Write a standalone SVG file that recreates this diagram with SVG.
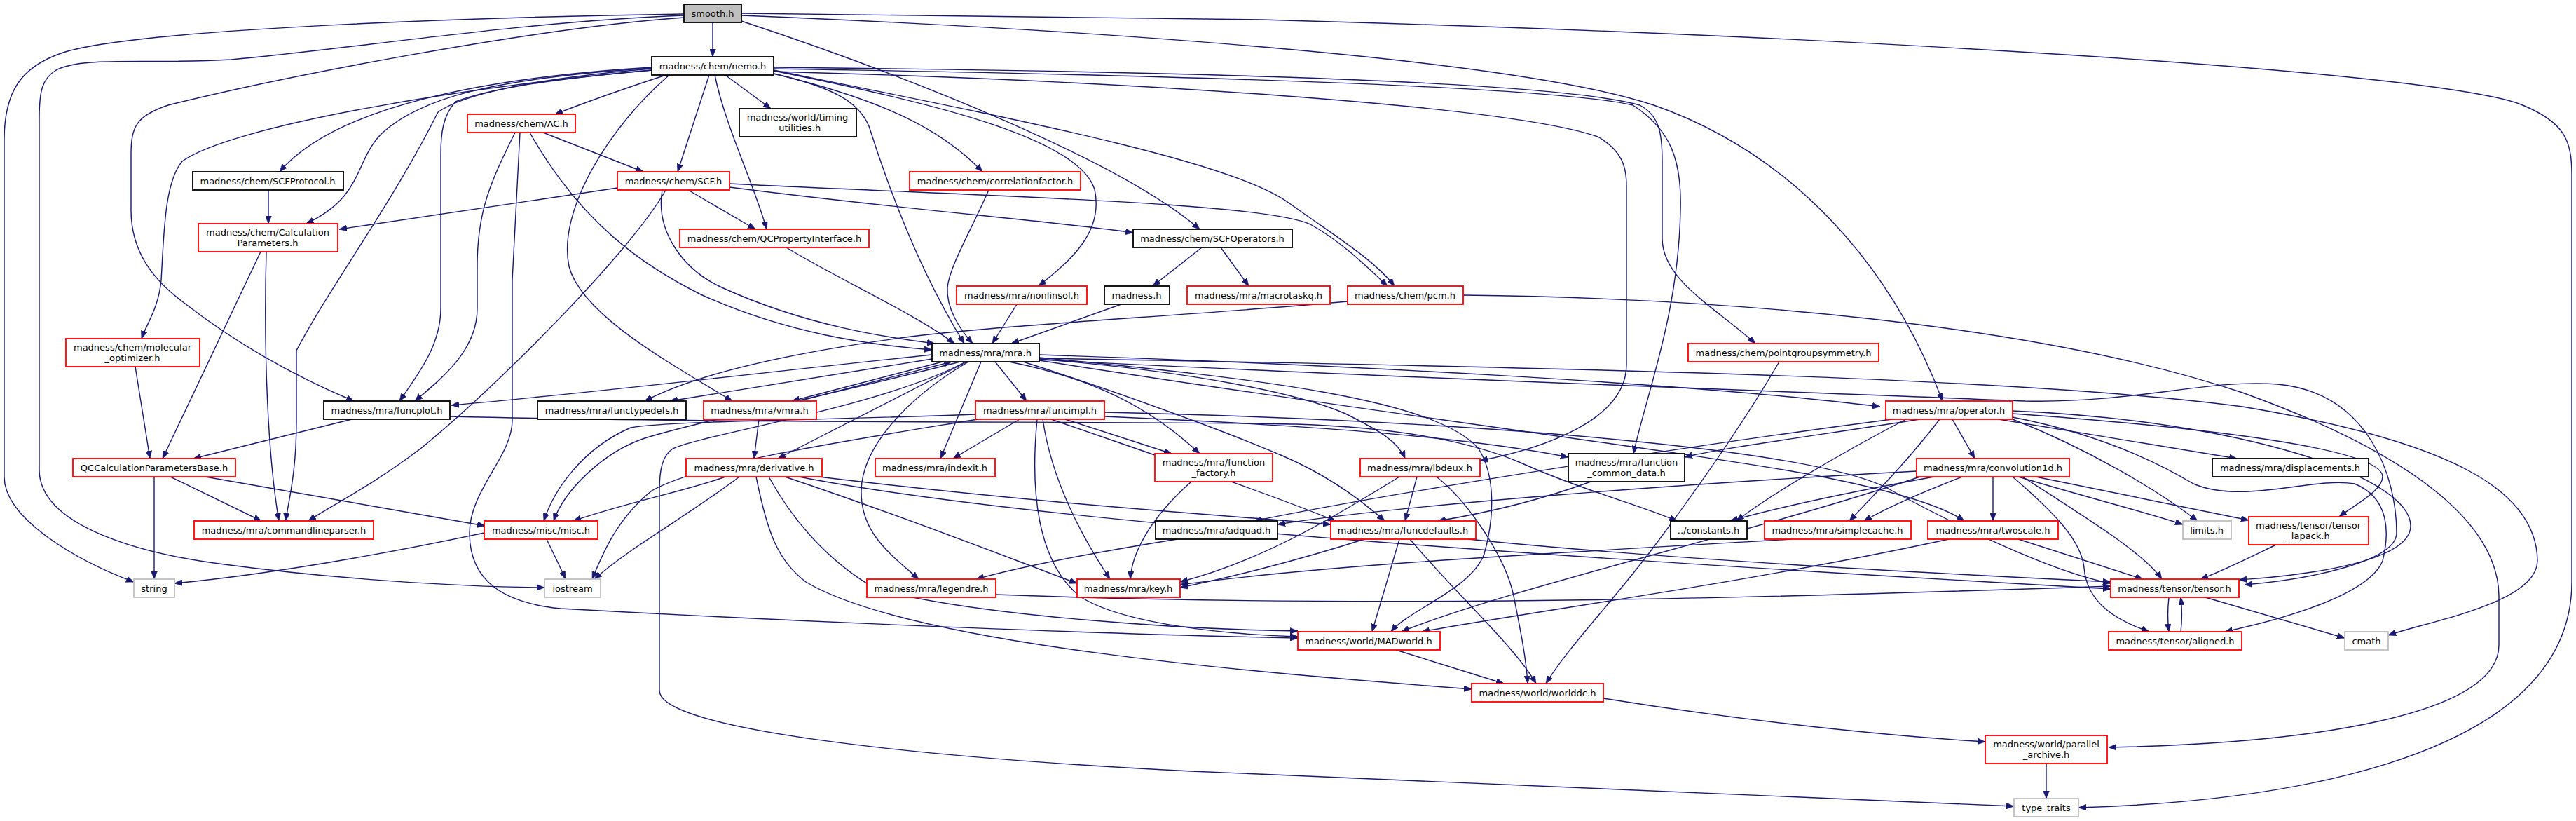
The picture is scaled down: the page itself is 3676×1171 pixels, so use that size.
<svg xmlns="http://www.w3.org/2000/svg" width="3676" height="1171" viewBox="0 0 3676 1171">
<defs>
<marker id="arr" viewBox="0 0 10 8" refX="10" refY="4" markerWidth="11" markerHeight="9" markerUnits="userSpaceOnUse" orient="auto"><path d="M0,0 L10,4 L0,8 z" fill="#191970" stroke="#191970" stroke-width="0.5"/></marker>
<style>
.edges path{fill:none;stroke:#191970;stroke-width:1.4;marker-end:url(#arr)}
.node rect{fill:#ffffff;stroke-width:1.8}
.blk rect{stroke:#000000}
.red rect{stroke:#ff0000}
.gry rect{stroke:#bfbfbf}
.cur rect{fill:#bfbfbf;stroke:#000000}
.node text{font-family:"DejaVu Sans",sans-serif;font-size:13px;fill:#000000;text-anchor:middle}
</style>
</defs>
<rect x="0" y="0" width="3676" height="1171" fill="#ffffff"/>
<g id="edges" class="edges">
<path d="M1017,32 L1017,81"/>
<path d="M976,20 C700,24 200,40 90,75 C30,95 6,130 6,200 L6,680 C6,740 110,800 191,830"/>
<path d="M976,22 C750,30 500,70 330,85 C200,92 120,80 80,100 C60,112 56,130 56,170 L56,670 C56,750 200,790 320,805 C470,825 650,837 777,838"/>
<path d="M976,25 C760,40 400,110 240,150 C195,165 187,180 187,220 L187,300 C187,360 220,400 260,430 C350,500 440,545 505,572"/>
<path d="M1058,30 C1300,110 1600,230 1712,327"/>
<path d="M1058,22 C1500,40 2150,80 2360,150 C2560,220 2700,380 2772,572"/>
<path d="M1058,19 L1800,28 C2600,50 3480,100 3600,150 C3660,175 3670,200 3670,250 L3670,830 C3670,1100 3200,1145 2966,1152"/>
<path d="M950,107 C880,130 830,148 792,163"/>
<path d="M930,96 C700,110 480,150 399,245"/>
<path d="M930,97 C700,112 600,140 545,190 C505,230 520,280 437,319"/>
<path d="M930,98 C760,112 660,135 625,160 C560,290 470,410 423,500 L423,600 C423,680 410,720 408,743"/>
<path d="M931,100 C760,115 690,130 650,145 C632,165 629,190 629,220 L629,440 C629,490 600,530 570,572"/>
<path d="M930,100 C650,125 330,180 260,230 C235,260 234,330 230,400 C226,440 210,460 202,483"/>
<path d="M1012,107 L967,245"/>
<path d="M1020,107 C1035,180 1075,260 1094,327"/>
<path d="M1035,107 L1100,155"/>
<path d="M1100,104 C1250,140 1340,180 1402,245"/>
<path d="M1104,105 C1190,125 1225,145 1240,180 C1275,290 1320,400 1376,490"/>
<path d="M1104,101 C1350,150 1540,200 1562,270 C1575,330 1530,370 1482,408"/>
<path d="M1104,100 C1450,170 1760,230 1840,290 C1910,340 1960,370 1990,408"/>
<path d="M1104,96 C1500,100 2200,110 2340,150 C2368,165 2372,190 2372,230 L2372,340 C2372,400 2450,440 2505,490"/>
<path d="M1104,98 C1550,105 2200,120 2330,150 C2385,185 2400,230 2398,300 C2395,450 2350,560 2331,647"/>
<path d="M1104,102 C1600,115 2150,150 2280,195 C2316,215 2321,240 2321,265 L2321,520 C2321,600 2200,640 2112,657"/>
<path d="M955,107 C870,180 795,300 812,380 C830,450 960,520 1045,572"/>
<path d="M775,189 L918,245"/>
<path d="M735,189 C700,260 681,300 681,380 L681,440 C681,500 630,540 592,572"/>
<path d="M742,189 L731,400 L731,600 C731,650 670,700 670,760 C670,830 720,860 800,868 C1200,890 1600,905 1852,910"/>
<path d="M756,189 C830,320 920,380 1000,420 C1120,475 1240,492 1330,499"/>
<path d="M881,268 L484,327"/>
<path d="M982,271 L1078,327"/>
<path d="M1041,267 C1300,300 1500,315 1617,332"/>
<path d="M1041,262 C1400,280 1800,288 1870,320 C1915,345 1950,380 1980,408"/>
<path d="M950,271 C900,360 700,560 600,640 C520,700 470,722 440,743"/>
<path d="M945,271 C935,330 975,385 1030,410 C1150,465 1270,482 1334,490"/>
<path d="M372,359 L232,654"/>
<path d="M380,359 C376,500 382,650 398,743"/>
<path d="M383,271 L383,319"/>
<path d="M1122,353 C1200,400 1310,450 1362,490"/>
<path d="M1411,271 C1385,330 1355,380 1352,410 C1350,440 1370,470 1388,490"/>
<path d="M1451,434 L1416,490"/>
<path d="M1600,434 L1443,490"/>
<path d="M1715,353 L1645,408"/>
<path d="M1742,353 L1782,408"/>
<path d="M1923,430 C1700,450 1450,462 1300,480 C1150,500 1000,530 920,572"/>
<path d="M2088,421 C2450,425 2900,460 3200,560 C3450,650 3565,750 3566,850 L3566,920 C3566,1020 3300,1060 3009,1066"/>
<path d="M1330,512 L956,572"/>
<path d="M1330,506 C1100,530 850,560 644,578"/>
<path d="M1345,516 L1130,572"/>
<path d="M1140,572 L1358,516"/>
<path d="M1420,516 L1465,572"/>
<path d="M1380,516 L1110,654"/>
<path d="M1400,516 L1342,654"/>
<path d="M1440,516 C1560,540 1640,580 1712,647"/>
<path d="M1370,516 C1200,560 1000,600 920,625 C860,645 805,700 790,743"/>
<path d="M1378,516 C1260,580 1000,620 960,640 C945,650 941,670 941,700 L941,985 C941,1040 1300,1080 1700,1100 C2200,1125 2600,1140 2874,1150"/>
<path d="M1382,516 C1290,570 1230,640 1229,700 C1228,760 1270,790 1311,826"/>
<path d="M1483,510 C1800,540 2050,570 2110,640 C2135,680 2132,740 2118,790 C2100,840 2010,870 1985,901"/>
<path d="M1460,516 C1600,560 1760,620 1830,650 C1900,680 1950,720 1976,743"/>
<path d="M1483,512 C1700,530 1850,560 1920,590 C1970,615 1995,630 2005,654"/>
<path d="M1483,506 C1900,520 2400,545 2683,580"/>
<path d="M1483,514 C1900,580 2450,650 2600,680 C2700,700 2770,720 2803,743"/>
<path d="M1483,513 C2000,540 2600,560 2890,572 C3050,575 3150,540 3250,548 C3380,560 3420,680 3420,760 C3420,800 3300,826 3203,834"/>
<path d="M1483,511 C2300,525 2900,540 3200,580 C3500,630 3620,700 3621,800 C3620,860 3470,885 3408,906"/>
<path d="M1455,598 L1360,654"/>
<path d="M1520,598 L1672,647"/>
<path d="M1392,591 C1150,600 960,600 900,610 C830,640 790,700 776,743"/>
<path d="M1395,598 C1200,630 1000,660 930,700 C880,740 860,790 845,826"/>
<path d="M1488,598 C1500,680 1540,760 1584,826"/>
<path d="M1480,598 C1470,700 1480,800 1540,850 C1600,890 1750,905 1852,908"/>
<path d="M1576,594 C1900,608 2100,625 2238,652"/>
<path d="M1500,598 C1650,650 1800,700 1906,743"/>
<path d="M1576,588 C2100,600 2600,640 2700,700 C2850,780 2950,820 3012,832"/>
<path d="M1035,680 C980,700 900,715 818,743"/>
<path d="M1055,680 C990,730 900,780 848,826"/>
<path d="M1097,680 C1130,740 1180,800 1250,840 C1400,880 1700,898 1852,900"/>
<path d="M1079,680 C1095,760 1110,800 1150,830 C1300,920 1800,960 2100,983"/>
<path d="M1120,680 C1300,740 1450,800 1537,832"/>
<path d="M1168,680 C1500,720 1750,735 1899,748"/>
<path d="M1140,680 C1500,750 2300,800 3012,840"/>
<path d="M1083,598 L1076,654"/>
<path d="M1700,687 C1640,740 1615,790 1613,826"/>
<path d="M1680,769 C1550,790 1450,810 1393,826"/>
<path d="M2022,680 L2005,743"/>
<path d="M1997,680 C1900,740 1800,800 1684,830"/>
<path d="M2050,680 C2100,720 2150,800 2160,850 C2170,900 2178,940 2180,975"/>
<path d="M2270,687 C2180,720 2100,735 2052,743"/>
<path d="M1997,769 L1958,901"/>
<path d="M2012,769 C2080,850 2160,920 2192,975"/>
<path d="M1947,769 C1850,800 1750,825 1684,838"/>
<path d="M2095,769 C2400,800 2800,820 3012,830"/>
<path d="M2557,769 C2200,790 1900,805 1684,834"/>
<path d="M2880,769 L3058,826"/>
<path d="M2781,769 C2500,830 2200,870 2029,901"/>
<path d="M2844,680 L2844,743"/>
<path d="M2735,672 C2400,690 2000,720 1823,748"/>
<path d="M2760,680 C2650,700 2550,720 2469,743"/>
<path d="M2800,680 C2750,700 2700,720 2660,743"/>
<path d="M2880,680 C2980,710 3060,730 3115,748"/>
<path d="M2905,680 L3209,742"/>
<path d="M2872,680 C2930,730 2970,770 2974,810 C2978,860 3020,885 3067,901"/>
<path d="M2886,680 C2980,740 3060,790 3085,826"/>
<path d="M2740,680 C2500,760 2150,840 2000,901"/>
<path d="M2740,598 C2600,620 2450,640 2404,652"/>
<path d="M2720,598 C2620,650 2520,710 2478,743"/>
<path d="M2700,598 C2300,650 1900,720 1790,743"/>
<path d="M2768,598 C2720,660 2680,700 2639,743"/>
<path d="M2786,598 L2818,654"/>
<path d="M2852,598 L3192,654"/>
<path d="M2872,598 C2980,640 3080,700 3136,743"/>
<path d="M2872,590 C3150,610 3400,640 3400,680 C3400,700 3360,720 3338,737"/>
<path d="M2872,586 C3200,600 3440,680 3440,750 C3440,800 3300,820 3195,827"/>
<path d="M2872,595 C3000,620 3080,660 3130,690 C3200,720 3300,680 3360,690 C3410,710 3410,760 3400,800 C3380,850 3250,885 3175,901"/>
<path d="M3095,852 C3093,870 3093,885 3095,901"/>
<path d="M3112,901 C3114,885 3114,870 3112,852"/>
<path d="M3147,852 L3346,910"/>
<path d="M3248,777 C3200,800 3170,815 3140,826"/>
<path d="M1992,927 L2146,975"/>
<path d="M2288,996 C2500,1030 2700,1050 2833,1058"/>
<path d="M2920,1089 L2920,1139"/>
<path d="M2539,516 C2490,600 2420,700 2360,780 C2300,860 2240,920 2206,975"/>
<path d="M1421,848 C2000,870 2600,850 3012,836"/>
<path d="M691,760 C550,790 380,820 249,832"/>
<path d="M780,769 C790,790 800,810 807,826"/>
<path d="M220,680 L220,826"/>
<path d="M243,680 L373,743"/>
<path d="M293,680 L692,750"/>
<path d="M502,598 L276,654"/>
<path d="M642,594 C1100,605 1600,600 1850,605 C2000,610 2100,630 2170,660 C2260,700 2340,720 2393,743"/>
<path d="M193,523 L214,654"/>
</g>
<g id="n_smooth" class="node cur"><rect x="976" y="6" width="82" height="26"/><text x="1017" y="23.5">smooth.h</text></g>
<g id="n_nemo" class="node blk"><rect x="930" y="81" width="174" height="26"/><text x="1017" y="98.5">madness/chem/nemo.h</text></g>
<g id="n_ac" class="node red"><rect x="667" y="163" width="154" height="26"/><text x="744" y="180.5">madness/chem/AC.h</text></g>
<g id="n_timing" class="node blk"><rect x="1055" y="155" width="167" height="40"/><text x="1138" y="171.5">madness/world/timing</text><text x="1138" y="186.5">_utilities.h</text></g>
<g id="n_scfprotocol" class="node blk"><rect x="275" y="245" width="215" height="26"/><text x="382" y="262.5">madness/chem/SCFProtocol.h</text></g>
<g id="n_scf" class="node red"><rect x="881" y="245" width="160" height="26"/><text x="961" y="262.5">madness/chem/SCF.h</text></g>
<g id="n_corr" class="node red"><rect x="1298" y="245" width="244" height="26"/><text x="1420" y="262.5">madness/chem/correlationfactor.h</text></g>
<g id="n_calcparams" class="node red"><rect x="283" y="319" width="199" height="40"/><text x="382" y="335.5">madness/chem/Calculation</text><text x="382" y="350.5">Parameters.h</text></g>
<g id="n_qcprop" class="node red"><rect x="970" y="327" width="270" height="26"/><text x="1105" y="344.5">madness/chem/QCPropertyInterface.h</text></g>
<g id="n_scfops" class="node blk"><rect x="1617" y="327" width="227" height="26"/><text x="1730" y="344.5">madness/chem/SCFOperators.h</text></g>
<g id="n_molopt" class="node red"><rect x="94" y="483" width="191" height="40"/><text x="189" y="499.5">madness/chem/molecular</text><text x="189" y="514.5">_optimizer.h</text></g>
<g id="n_nonlinsol" class="node red"><rect x="1365" y="408" width="186" height="26"/><text x="1458" y="425.5">madness/mra/nonlinsol.h</text></g>
<g id="n_madness" class="node blk"><rect x="1576" y="408" width="93" height="26"/><text x="1622" y="425.5">madness.h</text></g>
<g id="n_macrotaskq" class="node red"><rect x="1694" y="408" width="204" height="26"/><text x="1796" y="425.5">madness/mra/macrotaskq.h</text></g>
<g id="n_pcm" class="node red"><rect x="1923" y="408" width="165" height="26"/><text x="2005" y="425.5">madness/chem/pcm.h</text></g>
<g id="n_pgs" class="node red"><rect x="2409" y="490" width="272" height="26"/><text x="2545" y="507.5">madness/chem/pointgroupsymmetry.h</text></g>
<g id="n_mra" class="node blk"><rect x="1330" y="490" width="153" height="26"/><text x="1406" y="507.5">madness/mra/mra.h</text></g>
<g id="n_funcplot" class="node blk"><rect x="462" y="572" width="180" height="26"/><text x="552" y="589.5">madness/mra/funcplot.h</text></g>
<g id="n_functypedefs" class="node blk"><rect x="767" y="572" width="212" height="26"/><text x="873" y="589.5">madness/mra/functypedefs.h</text></g>
<g id="n_vmra" class="node red"><rect x="1004" y="572" width="161" height="26"/><text x="1084" y="589.5">madness/mra/vmra.h</text></g>
<g id="n_funcimpl" class="node red"><rect x="1392" y="572" width="184" height="26"/><text x="1484" y="589.5">madness/mra/funcimpl.h</text></g>
<g id="n_operator" class="node red"><rect x="2691" y="572" width="181" height="26"/><text x="2781" y="589.5">madness/mra/operator.h</text></g>
<g id="n_qccb" class="node red"><rect x="104" y="654" width="232" height="26"/><text x="220" y="671.5">QCCalculationParametersBase.h</text></g>
<g id="n_derivative" class="node red"><rect x="979" y="654" width="194" height="26"/><text x="1076" y="671.5">madness/mra/derivative.h</text></g>
<g id="n_indexit" class="node red"><rect x="1249" y="654" width="171" height="26"/><text x="1334" y="671.5">madness/mra/indexit.h</text></g>
<g id="n_funcfactory" class="node red"><rect x="1648" y="647" width="168" height="40"/><text x="1732" y="663.5">madness/mra/function</text><text x="1732" y="678.5">_factory.h</text></g>
<g id="n_lbdeux" class="node red"><rect x="1941" y="654" width="171" height="26"/><text x="2026" y="671.5">madness/mra/lbdeux.h</text></g>
<g id="n_fcd" class="node blk"><rect x="2238" y="647" width="166" height="40"/><text x="2321" y="663.5">madness/mra/function</text><text x="2321" y="678.5">_common_data.h</text></g>
<g id="n_conv1d" class="node red"><rect x="2735" y="654" width="218" height="26"/><text x="2844" y="671.5">madness/mra/convolution1d.h</text></g>
<g id="n_displacements" class="node blk"><rect x="3157" y="654" width="223" height="26"/><text x="3268" y="671.5">madness/mra/displacements.h</text></g>
<g id="n_cmdline" class="node red"><rect x="277" y="743" width="256" height="26"/><text x="405" y="760.5">madness/mra/commandlineparser.h</text></g>
<g id="n_misc" class="node red"><rect x="691" y="743" width="162" height="26"/><text x="772" y="760.5">madness/misc/misc.h</text></g>
<g id="n_adquad" class="node blk"><rect x="1649" y="743" width="174" height="26"/><text x="1736" y="760.5">madness/mra/adquad.h</text></g>
<g id="n_funcdefaults" class="node red"><rect x="1899" y="743" width="207" height="26"/><text x="2002" y="760.5">madness/mra/funcdefaults.h</text></g>
<g id="n_constants" class="node blk"><rect x="2384" y="743" width="109" height="26"/><text x="2438" y="760.5">../constants.h</text></g>
<g id="n_simplecache" class="node red"><rect x="2518" y="743" width="209" height="26"/><text x="2622" y="760.5">madness/mra/simplecache.h</text></g>
<g id="n_twoscale" class="node red"><rect x="2751" y="743" width="186" height="26"/><text x="2844" y="760.5">madness/mra/twoscale.h</text></g>
<g id="n_limits" class="node gry"><rect x="3115" y="743" width="69" height="26"/><text x="3149" y="760.5">limits.h</text></g>
<g id="n_tensorlapack" class="node red"><rect x="3209" y="737" width="171" height="40"/><text x="3294" y="753.5">madness/tensor/tensor</text><text x="3294" y="768.5">_lapack.h</text></g>
<g id="n_string" class="node gry"><rect x="191" y="826" width="58" height="26"/><text x="220" y="843.5">string</text></g>
<g id="n_iostream" class="node gry"><rect x="777" y="826" width="80" height="26"/><text x="817" y="843.5">iostream</text></g>
<g id="n_legendre" class="node red"><rect x="1237" y="826" width="184" height="26"/><text x="1329" y="843.5">madness/mra/legendre.h</text></g>
<g id="n_key" class="node red"><rect x="1537" y="826" width="147" height="26"/><text x="1610" y="843.5">madness/mra/key.h</text></g>
<g id="n_tensor" class="node red"><rect x="3012" y="826" width="183" height="26"/><text x="3103" y="843.5">madness/tensor/tensor.h</text></g>
<g id="n_madworld" class="node red"><rect x="1852" y="901" width="203" height="26"/><text x="1953" y="918.5">madness/world/MADworld.h</text></g>
<g id="n_aligned" class="node red"><rect x="3009" y="901" width="190" height="26"/><text x="3104" y="918.5">madness/tensor/aligned.h</text></g>
<g id="n_cmath" class="node gry"><rect x="3346" y="901" width="62" height="26"/><text x="3377" y="918.5">cmath</text></g>
<g id="n_worlddc" class="node red"><rect x="2100" y="975" width="188" height="26"/><text x="2194" y="992.5">madness/world/worlddc.h</text></g>
<g id="n_parallelarchive" class="node red"><rect x="2833" y="1049" width="174" height="40"/><text x="2920" y="1065.5">madness/world/parallel</text><text x="2920" y="1080.5">_archive.h</text></g>
<g id="n_typetraits" class="node gry"><rect x="2874" y="1139" width="92" height="26"/><text x="2920" y="1156.5">type_traits</text></g>
</svg>
